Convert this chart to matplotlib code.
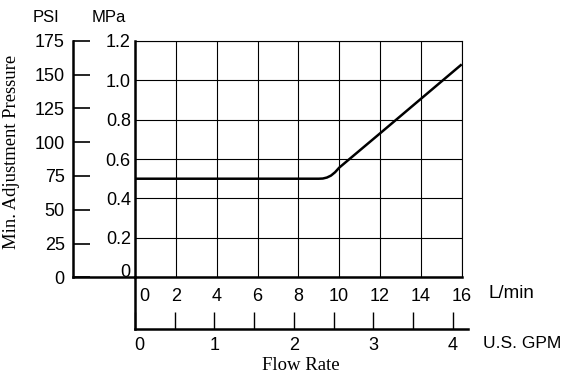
import matplotlib
matplotlib.use("Agg")
import matplotlib.pyplot as plt
from matplotlib.transforms import ScaledTranslation

plt.rcParams['font.family'] = ['Liberation Sans', 'DejaVu Sans']

# curve (flow in L/min, pressure in MPa)
flow_lpm = [0, 9.0, 9.2, 9.4, 9.6, 9.8, 10.0, 12.0, 14.0, 16.0]
pressure_mpa = [0.5, 0.5, 0.501, 0.506, 0.516, 0.533, 0.556, 0.73, 0.905, 1.08]

lpm_ticks = [0, 2, 4, 6, 8, 10, 12, 14, 16]
mpa_ticks = [0, 0.2, 0.4, 0.6, 0.8, 1.0, 1.2]
mpa_labels = ['0', '0.2', '0.4', '0.6', '0.8', '1.0', '1.2']
psi_ticks = [0, 25, 50, 75, 100, 125, 150, 175]
gpm_ticks = [0, 0.5, 1, 1.5, 2, 2.5, 3, 3.5, 4]
gpm_labels = ['0', '', '1', '', '2', '', '3', '', '4']

W, H = 564, 376
fig = plt.figure(figsize=(5.64, 3.76), dpi=100)


def box(x0, y0, x1, y1):
    # pixel box -> figure fraction
    return [x0 / W, 1 - y1 / H, (x1 - x0) / W, (y1 - y0) / H]


def shift(lbl, dx, dy):
    lbl.set_transform(lbl.get_transform() + ScaledTranslation(dx / 100, dy / 100, fig.dpi_scale_trans))


fs = 13
serif = ['Liberation Serif', 'DejaVu Serif']

# main grid, MPa vs L/min
ax = fig.add_axes(box(135, 40.7, 461.7, 277.3))
ax.plot(flow_lpm, pressure_mpa, color='black', lw=1.8, solid_capstyle='butt')
ax.set_xlim(0, 16)
ax.set_ylim(0, 1.2)
ax.set_xticks(lpm_ticks)
ax.set_yticks(mpa_ticks)
ax.set_yticklabels(mpa_labels)
ax.grid(True, color='black', lw=0.8)
ax.tick_params(length=0, labelsize=fs)
ax.tick_params(axis='x', pad=8)
ax.tick_params(axis='y', pad=3)
for s in ['top', 'right']:
    ax.spines[s].set_linewidth(0.8)
for s in ['left', 'bottom']:
    ax.spines[s].set_linewidth(1.8)
ax.spines['left'].set_zorder(5)
shift(ax.get_xticklabels()[0], 9, 0)
shift(ax.get_yticklabels()[0], 0, 7)

# PSI scale
ap = fig.add_axes(box(73, 40.7, 135, 277.3))
ap.set_ylim(0, 175)
ap.set_xlim(0, 1)
ap.set_yticks(psi_ticks)
ap.set_xticks([])
ap.patch.set_visible(False)
for s in ['top', 'right']:
    ap.spines[s].set_visible(False)
ap.spines['left'].set_linewidth(1.8)
ap.spines['bottom'].set_linewidth(1.8)
ap.tick_params(axis='y', direction='in', length=12, width=1.2, labelsize=fs, pad=6)

# U.S. GPM scale
ag = fig.add_axes(box(135, 277.3, 467.7, 329))
ag.set_xlim(0, 332.7 / 79.4)
ag.set_ylim(0, 1)
ag.set_xticks(gpm_ticks)
ag.set_xticklabels(gpm_labels)
ag.set_yticks([])
ag.patch.set_visible(False)
for s in ['top', 'right']:
    ag.spines[s].set_visible(False)
ag.spines['left'].set_linewidth(1.8)
ag.spines['bottom'].set_linewidth(1.8)
ag.tick_params(axis='x', direction='in', length=12, width=1.0, labelsize=fs, pad=6)
shift(ag.get_xticklabels()[0], 4, 0)

# unit labels and titles
fig.text(46 / W, 1 - 18 / H, 'PSI', ha='center', va='center', fontsize=12)
fig.text(109 / W, 1 - 18 / H, 'MPa', ha='center', va='center', fontsize=12)
fig.text(489 / W, 1 - 293 / H, 'L/min', ha='left', va='center', fontsize=13.5)
fig.text(483 / W, 1 - 344 / H, 'U.S. GPM', ha='left', va='center', fontsize=12.5)
fig.text(301 / W, 1 - 365 / H, 'Flow Rate', ha='center', va='center', fontsize=13.5,
         family=serif)
fig.text(12 / W, 1 - 152 / H, 'Min. Adjustment Pressure', ha='center', va='center',
         rotation=90, fontsize=13.4, family=serif)

fig.savefig('out.png', dpi=100)
